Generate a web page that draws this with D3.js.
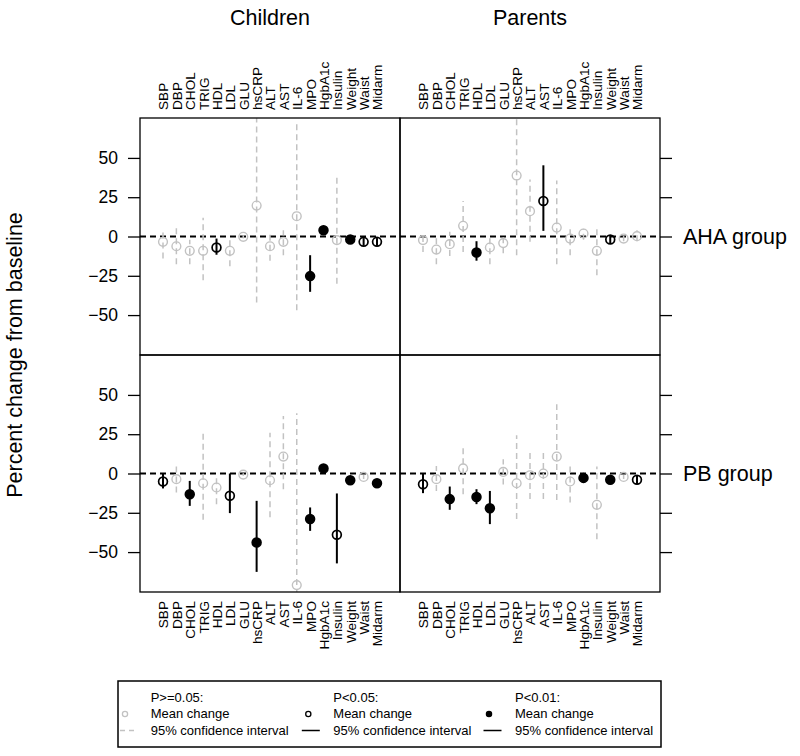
<!DOCTYPE html>
<html>
<head>
<meta charset="utf-8">
<script src="https://cdn.jsdelivr.net/npm/d3@7"></script>
<style>
  body { margin: 0; background: #fff; }
  svg { display: block; font-family: Arial, "Liberation Sans", Helvetica, sans-serif; }
</style>
</head>
<body>
<svg id="chart" width="800" height="756"></svg>
<script>
// ---------- data ----------
const categories = ["SBP","DBP","CHOL","TRIG","HDL","LDL","GLU","hsCRP","ALT","AST","IL-6","MPO","HgbA1c","Insulin","Weight","Waist","Midarm"];
const columns = ["Children", "Parents"];
const rows = ["AHA group", "PB group"];
const yTicks = [-50, -25, 0, 25, 50];

// significance: 0 = P>=0.05, 1 = P<0.05, 2 = P<0.01
const childrenAHA_mean  = [-3.4, -6.2, -9.1, -9.1, -7.0, -9.1, -0.2, 19.7, -6.2, -3.4, 12.9, -25.2, 4.0, -2.3, -1.9, -3.4, -3.4];
const childrenAHA_lower = [-14, -17.6, -17.6, -27.8, -11.6, -19, -1.2, -42, -15.4, -12, -46.9, -35.2, 2.5, -30, -3.4, -6, -6];
const childrenAHA_upper = [5, 7.2, -2, 12, -1.3, -1.3, 0.8, 80, 3, 4, 71.8, -11.9, 5.5, 37.9, -0.5, -1, -1];
const childrenAHA_sig   = [0,0,0,0,1,0,0,0,0,0,0,2,2,0,2,1,1];

const parentsAHA_mean  = [-2.3, -8.3, -4.9, 6.8, -10.2, -7.0, -4.2, 38.8, 16.1, 22.6, 5.7, -1.3, 1.9, -9.1, -1.9, -1.3, 0.2];
const parentsAHA_lower = [-9.8, -17.6, -12.4, -9.8, -15.4, -17.6, -10.6, -11.9, -3.4, 3.6, -17.6, -12, -2, -24.6, -4.5, -3, -3];
const parentsAHA_upper = [1, 0, 3, 22.6, -3, -0.5, 2, 80, 36.2, 45.3, 35.6, 5, 5, 7.2, 0.8, 0.5, 4];
const parentsAHA_sig   = [0,0,0,0,2,0,0,0,0,1,0,0,0,0,1,0,0];

const childrenPB_mean  = [-5.1, -3.6, -13.2, -6.2, -8.9, -14.2, -0.7, -43.9, -4.3, 10.8, -71, -29, 3.2, -39, -4.3, -2.2, -6.2];
const childrenPB_lower = [-9.5, -12.1, -20.6, -29.5, -19.5, -25.2, -1.5, -62.6, -27.9, -10, -90, -36.5, 1.5, -57.2, -5.5, -3.5, -8];
const childrenPB_upper = [0, 5.9, -4.7, 26, -2.3, 0, 0.2, -17.4, 26, 36.6, 38.3, -21.6, 4.5, -12.7, -3, -1, -3.5];
const childrenPB_sig   = [1,0,2,0,0,1,0,2,0,0,0,2,2,1,2,0,2];

const parentsPB_mean  = [-6.8, -3.6, -16.3, 3.2, -14.9, -22.1, 1.0, -6.2, -1.1, 0.0, 10.8, -5.1, -2.8, -19.9, -4.0, -2.2, -4.0];
const parentsPB_lower = [-12.5, -11.1, -23.1, -13.2, -19.5, -32.2, -7, -29, -16.3, -16.3, -16.8, -18.5, -4, -41.8, -5, -3.5, -6.8];
const parentsPB_upper = [0.2, 4.8, -8.3, 18.6, -10, -11.1, 9, 24.3, 15.5, 15.5, 44.1, 5.9, -1.5, 4.4, -3, -1, -1];
const parentsPB_sig   = [1,0,2,0,2,2,0,0,0,0,0,0,2,0,2,0,1];

const legendTitles = ["P>=0.05:", "P<0.05:", "P<0.01:"];
const legendLine1 = "Mean change";
const legendLine2 = "95% confidence interval";

// ---------- build panels ----------
function rowsOf(mean, lower, upper, sig) {
  return categories.map((c, i) => ({cat: c, mean: mean[i], lower: lower[i], upper: upper[i], sig: sig[i]}));
}
const panels = [
  {col: 0, row: 0, data: rowsOf(childrenAHA_mean, childrenAHA_lower, childrenAHA_upper, childrenAHA_sig)},
  {col: 1, row: 0, data: rowsOf(parentsAHA_mean, parentsAHA_lower, parentsAHA_upper, parentsAHA_sig)},
  {col: 0, row: 1, data: rowsOf(childrenPB_mean, childrenPB_lower, childrenPB_upper, childrenPB_sig)},
  {col: 1, row: 1, data: rowsOf(parentsPB_mean, parentsPB_lower, parentsPB_upper, parentsPB_sig)}
];

const GRAY = "#c2c2c2";
const svg = d3.select("#chart");

const px0 = 140, pw = 260, py0 = 118, ph = 237;
const yDomain = [-75.4, 75.4];

const defs = svg.append("defs");

panels.forEach(p => {
  const x0 = px0 + p.col * pw, y0 = py0 + p.row * ph;
  const x = d3.scalePoint().domain(categories).range([x0, x0 + pw]).padding(1.72);
  const y = d3.scaleLinear().domain(yDomain).range([y0 + ph, y0]);
  const id = "clip" + p.col + p.row;
  defs.append("clipPath").attr("id", id).append("rect")
    .attr("x", x0).attr("y", y0).attr("width", pw).attr("height", ph);

  const g = svg.append("g");
  const inner = g.append("g").attr("clip-path", `url(#${id})`);

  // zero reference line
  inner.append("line")
    .attr("x1", x0).attr("x2", x0 + pw).attr("y1", y(0)).attr("y2", y(0))
    .attr("stroke", "#000").attr("stroke-width", 2).attr("stroke-dasharray", "6,4");

  // CI lines
  inner.selectAll("line.ci").data(p.data).join("line").attr("class", "ci")
    .attr("x1", d => x(d.cat)).attr("x2", d => x(d.cat))
    .attr("y1", d => y(d.lower)).attr("y2", d => y(d.upper))
    .attr("stroke", d => d.sig === 0 ? GRAY : "#000")
    .attr("stroke-width", d => d.sig === 0 ? 1.5 : 2)
    .attr("stroke-dasharray", d => d.sig === 0 ? "6,4" : null);

  // points
  inner.selectAll("circle.pt").data(p.data).join("circle").attr("class", "pt")
    .attr("cx", d => x(d.cat)).attr("cy", d => y(d.mean))
    .attr("r", 4.4)
    .attr("fill", d => d.sig === 2 ? "#000" : "none")
    .attr("stroke", d => d.sig === 0 ? GRAY : "#000")
    .attr("stroke-width", d => d.sig === 0 ? 1.4 : 1.7);

  // panel border
  g.append("rect").attr("x", x0).attr("y", y0).attr("width", pw).attr("height", ph)
    .attr("fill", "none").attr("stroke", "#000").attr("stroke-width", 1.3);

  // y axes
  if (p.col === 0) {
    const ax = g.append("g").attr("transform", `translate(${x0},0)`)
      .call(d3.axisLeft(y).tickValues(yTicks).tickSize(12).tickPadding(10).tickFormat(d3.format("d")));
    ax.select(".domain").remove();
    ax.selectAll("line").attr("stroke", "#000").attr("stroke-width", 1.3);
    ax.selectAll("text").attr("font-size", 17.5).attr("fill", "#000").attr("font-family", "Arial, Liberation Sans, sans-serif");
  } else {
    const ax = g.append("g").attr("transform", `translate(${x0 + pw},0)`)
      .call(d3.axisRight(y).tickValues(yTicks).tickSize(12).tickFormat(""));
    ax.select(".domain").remove();
    ax.selectAll("line").attr("stroke", "#000").attr("stroke-width", 1.3);
    // row label
    g.append("text").attr("x", x0 + pw + 23).attr("y", y(0)).attr("dy", "0.35em")
      .attr("font-size", 21.5).attr("fill", "#000").text(rows[p.row]);
  }

  // x axes
  if (p.row === 0) {
    const ax = g.append("g").attr("transform", `translate(0,${y0})`)
      .call(d3.axisTop(x).tickSize(0));
    ax.select(".domain").remove();
    ax.selectAll("text").attr("transform", "rotate(-90)").attr("x", 8).attr("y", 0)
      .attr("dy", "0.36em").style("text-anchor", "start")
      .attr("font-size", 13.6).attr("fill", "#000").attr("font-family", "Arial, Liberation Sans, sans-serif");
    // strip (column) title
    svg.append("text").attr("x", x0 + pw / 2).attr("y", 25).attr("text-anchor", "middle")
      .attr("font-size", 21.5).attr("fill", "#000").text(columns[p.col]);
  } else {
    const ax = g.append("g").attr("transform", `translate(0,${y0 + ph})`)
      .call(d3.axisBottom(x).tickSize(0));
    ax.select(".domain").remove();
    ax.selectAll("text").attr("transform", "rotate(-90)").attr("x", -9).attr("y", 0)
      .attr("dy", "0.36em").style("text-anchor", "end")
      .attr("font-size", 13.6).attr("fill", "#000").attr("font-family", "Arial, Liberation Sans, sans-serif");
  }
});

// y axis title
svg.append("text")
  .attr("transform", `translate(22,${py0 + ph})rotate(-90)`)
  .attr("text-anchor", "middle").attr("font-size", 21.5).attr("fill", "#000")
  .text("Percent change from baseline");

// ---------- legend ----------
const lg = svg.append("g");
lg.append("rect").attr("x", 118).attr("y", 681).attr("width", 543).attr("height", 66)
  .attr("fill", "#fff").attr("stroke", "#000").attr("stroke-width", 1.5);
const legX = [150.7, 333.3, 515];
legendTitles.forEach((t, i) => {
  const tx = legX[i];
  lg.append("text").attr("x", tx).attr("y", 701.5).attr("font-size", 13).text(t);
  lg.append("text").attr("x", tx).attr("y", 718.2).attr("font-size", 13).text(legendLine1);
  lg.append("text").attr("x", tx).attr("y", 735).attr("font-size", 13).text(legendLine2);
  const sx = i === 0 ? tx - 25.7 : (i === 1 ? tx - 25 : tx - 26);
  lg.append("circle").attr("cx", sx).attr("cy", 714).attr("r", 2.6)
    .attr("fill", i === 2 ? "#000" : "none")
    .attr("stroke", i === 0 ? GRAY : "#000").attr("stroke-width", 1.3);
  lg.append("line").attr("x1", i === 0 ? 120 : tx - 31.5).attr("x2", tx - 13.5)
    .attr("y1", 730.5).attr("y2", 730.5)
    .attr("stroke", i === 0 ? GRAY : "#000").attr("stroke-width", 1.5)
    .attr("stroke-dasharray", i === 0 ? "5,4" : null);
});
</script>
</body>
</html>
